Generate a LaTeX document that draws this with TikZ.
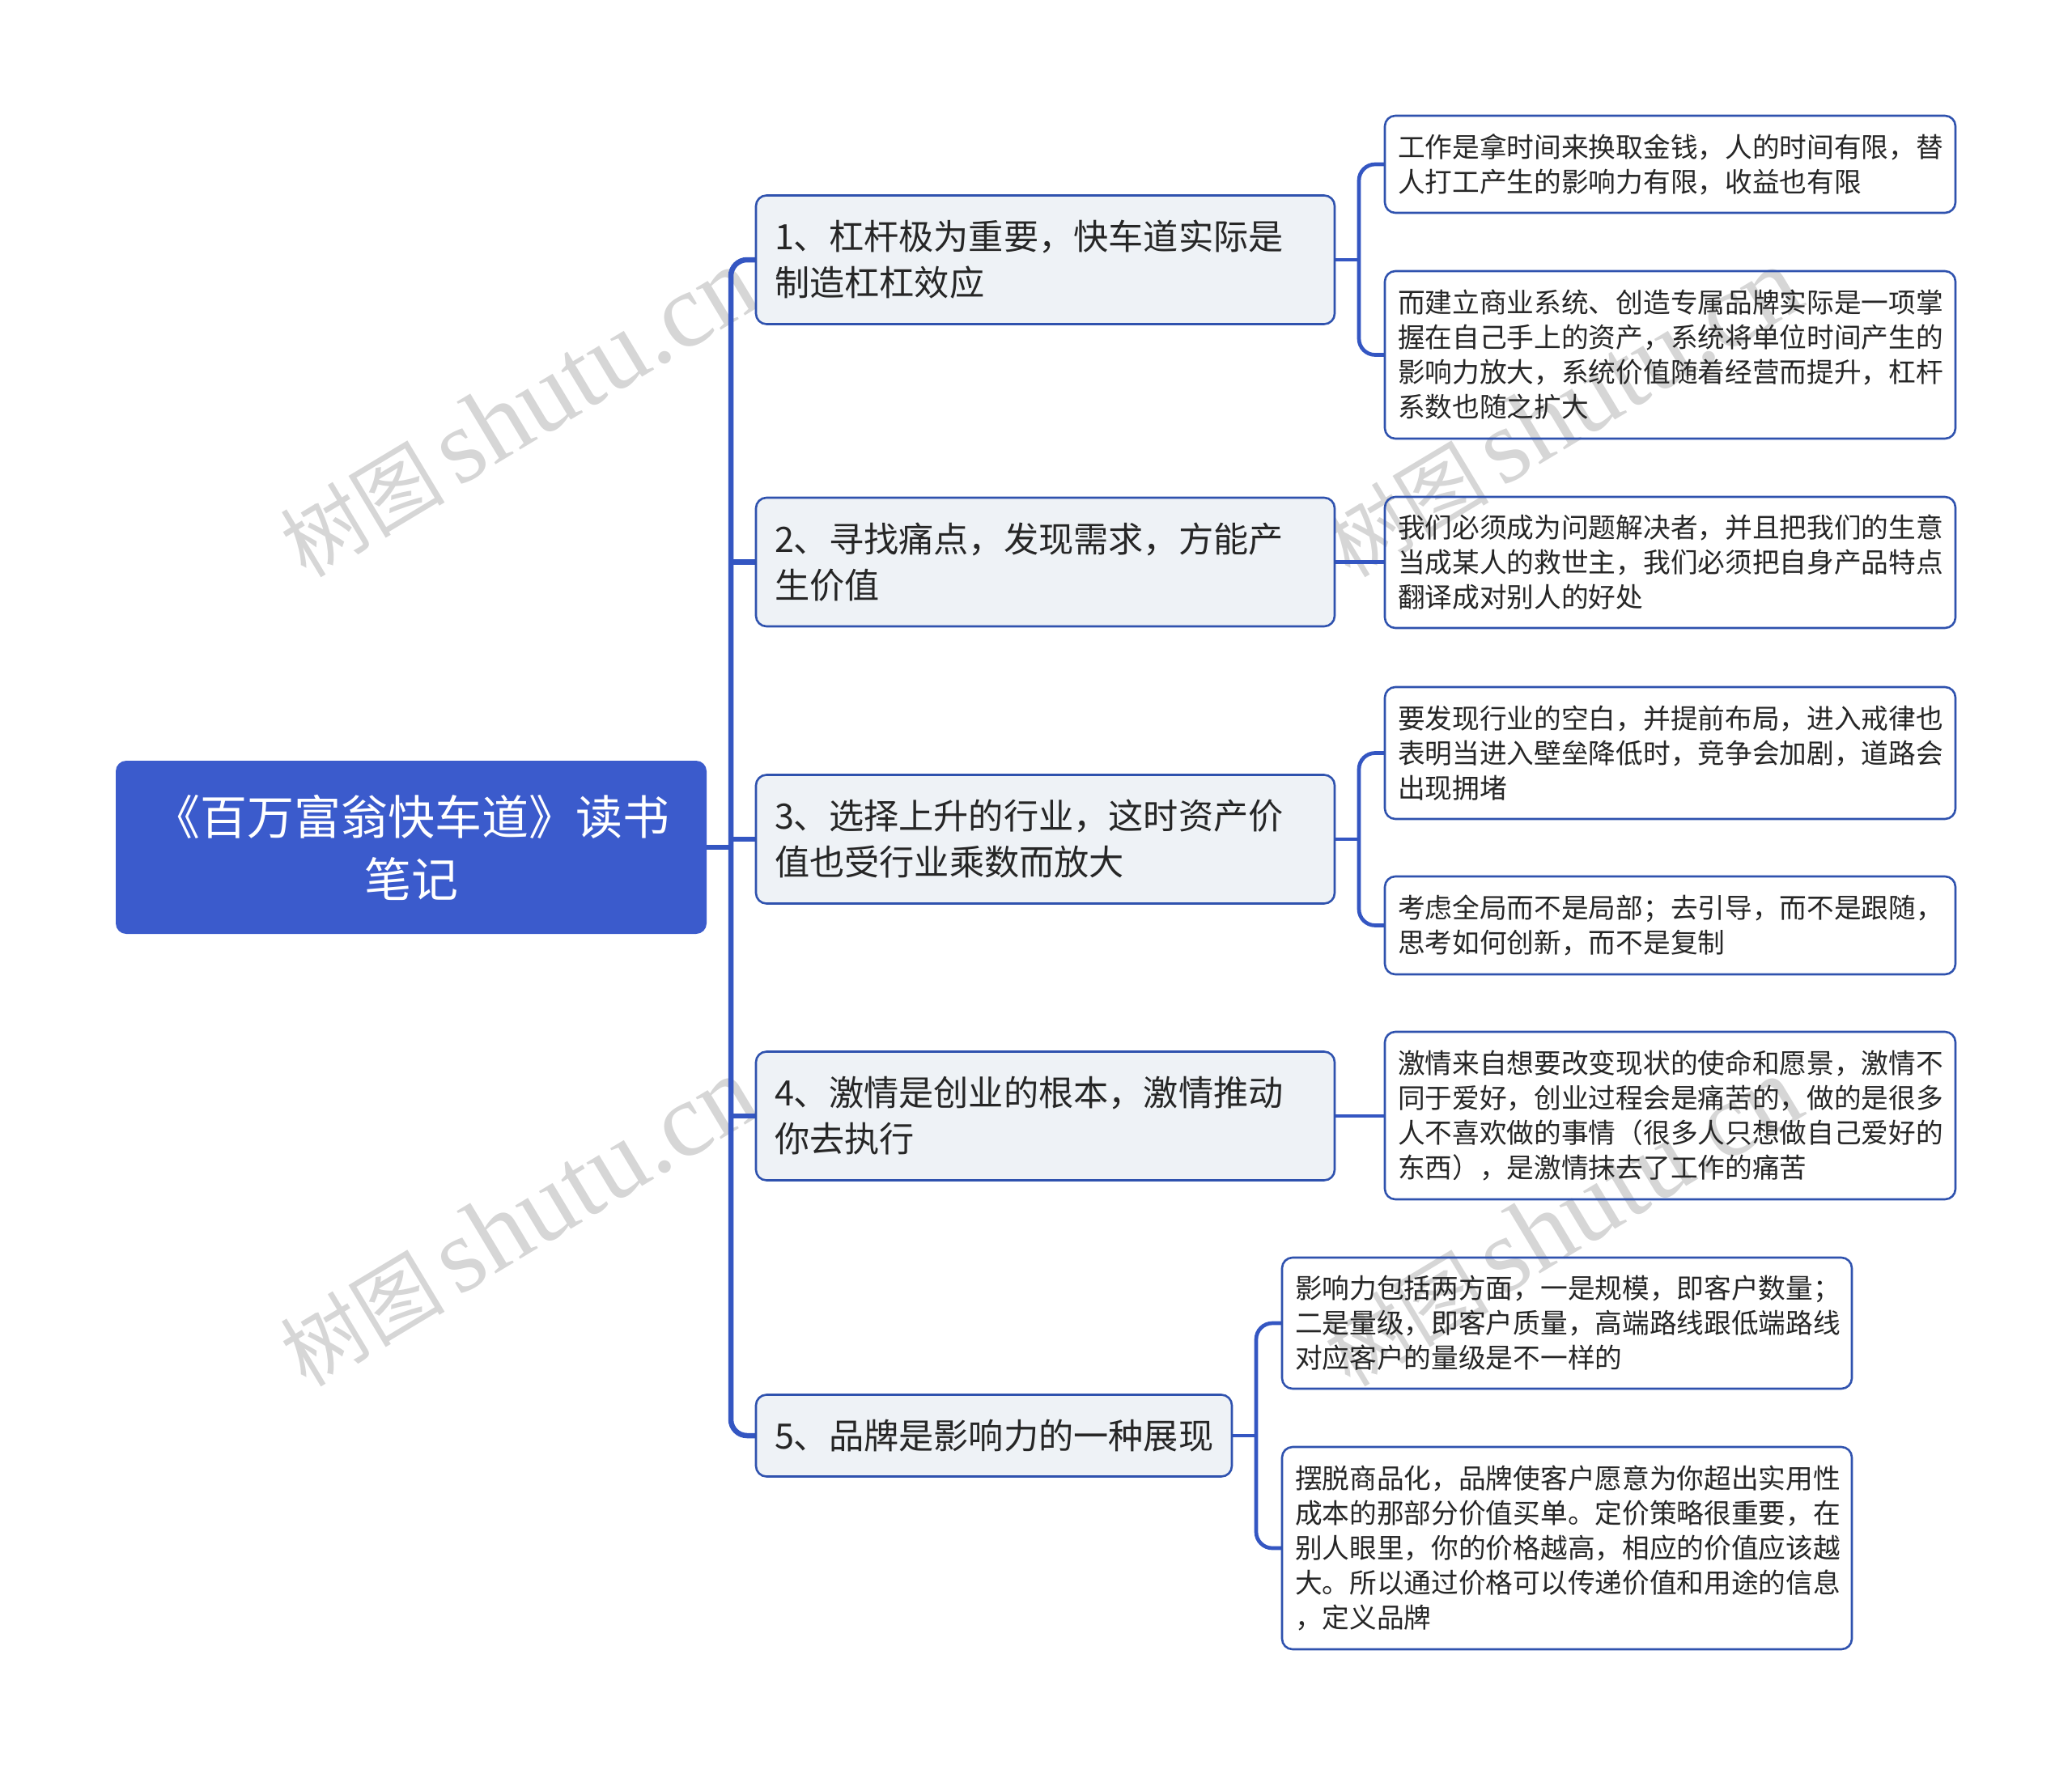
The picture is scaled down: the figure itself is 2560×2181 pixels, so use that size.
\documentclass[tikz,border=0pt]{standalone}
\usepackage{fontspec}
\setmainfont{Noto Sans CJK SC}
\newfontfamily\wmlatin{Liberation Serif}
\usetikzlibrary{calc}
\pgfdeclarelayer{connlayer}
\pgfdeclarelayer{wmlayer}
\pgfsetlayers{wmlayer,connlayer,main}
\definecolor{mainblue}{HTML}{3B5BCC}
\definecolor{linkblue}{HTML}{3456C2}
\definecolor{edgeblue}{HTML}{2F52AE}
\definecolor{branchfill}{HTML}{EEF2F6}
\definecolor{inktext}{HTML}{262626}
\definecolor{wmgray}{HTML}{D6D6D6}
\tikzset{
  x=1pt,y=-1pt,
  rootbox/.style={rectangle,rounded corners=13pt,fill=mainblue,text=white,align=center,
    minimum width=730pt,minimum height=214pt,text width=690pt,inner sep=0pt,outer sep=0pt,
    font=\fontsize{58pt}{77pt}\selectfont},
  branchbox/.style n args={2}{rectangle,rounded corners=13pt,draw=edgeblue,line width=2.6pt,fill=branchfill,
    text=inktext,align=left,minimum width=#1,minimum height=#2,text width=#1-46pt,inner xsep=23pt,inner ysep=0pt,outer sep=0pt,
    font=\fontsize{43.2pt}{57pt}\selectfont},
  leafbox/.style n args={2}{rectangle,rounded corners=13pt,draw=edgeblue,line width=2.6pt,
    text=inktext,align=left,minimum width=#1,minimum height=#2,text width=#1-32pt,inner xsep=16pt,inner ysep=0pt,outer sep=0pt,
    font=\fontsize{33.7pt}{43pt}\selectfont},
  spineline/.style={draw=linkblue,line width=6.5pt,rounded corners=20pt},
  forkline/.style={draw=linkblue,line width=4.7pt,rounded corners=20pt},
  wmark/.style={rotate=31,text=wmgray,inner sep=0pt},
}
\newcommand{\wmtext}{\fontsize{102pt}{130pt}\selectfont 树图\hspace{16pt}{\wmlatin\fontsize{131pt}{130pt}\selectfont shutu.cn}}
\begin{document}
\begin{tikzpicture}
\useasboundingbox (0,0) rectangle (2560,2181);

\node[rootbox] (root) at (508,1047) {《百万富翁快车道》读书\hspace*{8pt}\\笔记};

\node[branchbox={715pt}{159pt}] (b1) at (1291.5,321) {1、杠杆极为重要，快车道实际是\\制造杠杠效应};
\node[branchbox={715pt}{159pt}] (b2) at (1291.5,694.5) {2、寻找痛点，发现需求，方能产\\生价值};
\node[branchbox={715pt}{159pt}] (b3) at (1291.5,1037) {3、选择上升的行业，这时资产价\\值也受行业乘数而放大};
\node[branchbox={715pt}{159pt}] (b4) at (1291.5,1379) {4、激情是创业的根本，激情推动\\你去执行};
\node[branchbox={588pt}{101pt}] (b5) at (1228,1774) {5、品牌是影响力的一种展现};

\node[leafbox={705pt}{120pt}] (l1) at (2063.5,203) {工作是拿时间来换取金钱，人的时间有限，替\\人打工产生的影响力有限，收益也有限};
\node[leafbox={705pt}{207pt}] (l2) at (2063.5,438.5) {而建立商业系统、创造专属品牌实际是一项掌\\握在自己手上的资产，系统将单位时间产生的\\影响力放大，系统价值随着经营而提升，杠杆\\系数也随之扩大};
\node[leafbox={705pt}{162pt}] (l3) at (2063.5,695) {我们必须成为问题解决者，并且把我们的生意\\当成某人的救世主，我们必须把自身产品特点\\翻译成对别人的好处};
\node[leafbox={705pt}{163pt}] (l4) at (2063.5,930.5) {要发现行业的空白，并提前布局，进入戒律也\\表明当进入壁垒降低时，竞争会加剧，道路会\\出现拥堵};
\node[leafbox={705pt}{121pt}] (l5) at (2063.5,1143.5) {考虑全局而不是局部；去引导，而不是跟随，\\思考如何创新，而不是复制};
\node[leafbox={705pt}{207pt}] (l6) at (2063.5,1378.5) {激情来自想要改变现状的使命和愿景，激情不\\同于爱好，创业过程会是痛苦的，做的是很多\\人不喜欢做的事情（很多人只想做自己爱好的\\东西），是激情抹去了工作的痛苦};
\node[leafbox={704pt}{162pt}] (l7) at (1936,1635) {影响力包括两方面，一是规模，即客户数量；\\二是量级，即客户质量，高端路线跟低端路线\\对应客户的量级是不一样的};
\node[leafbox={704pt}{250pt}] (l8) at (1936,1913) {摆脱商品化，品牌使客户愿意为你超出实用性\\成本的那部分价值买单。定价策略很重要，在\\别人眼里，你的价格越高，相应的价值应该越\\大。所以通过价格可以传递价值和用途的信息\\，定义品牌};

\begin{pgfonlayer}{wmlayer}
\node[wmark] (w1) at (640,510) {\wmtext};
\node[wmark] (w2) at (1930,510) {\wmtext};
\node[wmark] (w3) at (640,1510) {\wmtext};
\node[wmark] (w4) at (1930,1510) {\wmtext};
\end{pgfonlayer}

\begin{pgfonlayer}{connlayer}
\coordinate (sx) at (903,1047);
\coordinate (f1) at (1679,321);
\coordinate (f3) at (1679,1037);
\coordinate (f5) at (1552,1774);
\draw[spineline] (b1.west) -| (sx) |- (b5.west);
\draw[spineline] (root.east) -- (sx);
\draw[spineline] (sx |- b2.west) -- (b2.west);
\draw[spineline] (sx |- b3.west) -- (b3.west);
\draw[spineline] (sx |- b4.west) -- (b4.west);
\draw[forkline] (l1.west) -| (f1) |- (l2.west);
\draw[forkline] (b1.east) -- (f1);
\draw[forkline] (b2.east) -- (b2.east -| l3.west);
\draw[forkline] (l4.west) -| (f3) |- (l5.west);
\draw[forkline] (b3.east) -- (f3);
\draw[forkline] (b4.east) -- (b4.east -| l6.west);
\draw[forkline] (l7.west) -| (f5) |- (l8.west);
\draw[forkline] (b5.east) -- (f5);
\end{pgfonlayer}
\end{tikzpicture}
\end{document}
